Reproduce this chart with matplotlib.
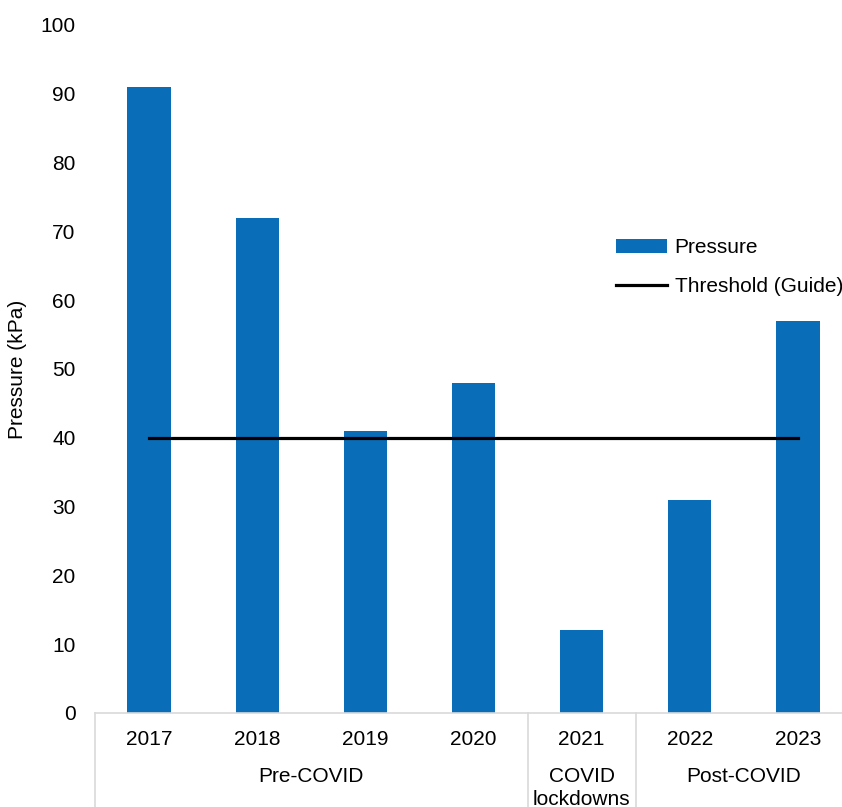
import numpy as np
import matplotlib.pyplot as plt
import matplotlib.transforms as mtransforms

plt.rcParams['font.family'] = ['Liberation Sans', 'DejaVu Sans']

years = ['2017', '2018', '2019', '2020', '2021', '2022', '2023']
pressure = [91, 72, 41, 48, 12, 31, 57]
threshold = [40, 40, 40, 40, 40, 40, 40]
groups = ['Pre-COVID', 'COVID\nlockdowns', 'Post-COVID']
group_sizes = [4, 1, 2]

bar_color = '#0A6DB8'
grid_color = '#D9D9D9'
fs = 15

fig = plt.figure(figsize=(8.42, 8.07), dpi=100)
ax = fig.add_axes([95 / 842, 1 - 713 / 807, (852 - 95) / 842, (713 - 25) / 807])

x = np.arange(len(years))
bars = ax.bar(x, pressure, width=0.4, color=bar_color, label='Pressure', zorder=2)
line, = ax.plot(x, threshold, color='black', lw=2.3, label='Threshold (Guide)', zorder=3)

ax.set_xlim(-0.5, len(years) - 0.5)
ax.set_ylim(0, 100)
ax.set_yticks(range(0, 101, 10))
ax.set_xticks(x)
ax.set_xticklabels(years)
ax.tick_params(axis='y', length=0, pad=14, labelsize=fs)
ax.tick_params(axis='x', length=0, pad=12, labelsize=fs)

for s in ['top', 'right', 'left']:
    ax.spines[s].set_visible(False)
ax.spines['bottom'].set_color(grid_color)
ax.spines['bottom'].set_linewidth(1.2)

ax.set_ylabel('Pressure (kPa)', fontsize=fs, labelpad=10)

# category group labels + separators below the axis
trans = mtransforms.blended_transform_factory(ax.transData, ax.transAxes)
drop = 100 / 688
start = -0.5
edges = [start]
for g, n in zip(groups, group_sizes):
    mid = start + n / 2
    ax.text(mid, -0.079, g, transform=trans, ha='center', va='top',
            fontsize=fs, linespacing=1.25, clip_on=False)
    start += n
    edges.append(start)
for e in edges:
    ax.plot([e, e], [0, -drop], transform=trans, color=grid_color,
            lw=1.2, clip_on=False)

ax.legend([bars, line], ['Pressure', 'Threshold (Guide)'],
          loc='upper left', bbox_to_anchor=(608 / 842, 1 - 230 / 807),
          bbox_transform=fig.transFigure, frameon=False, fontsize=fs,
          handlelength=2.45, handleheight=0.6, labelspacing=0.95,
          handletextpad=0.35, borderaxespad=0)

fig.savefig('out.png', dpi=100)
